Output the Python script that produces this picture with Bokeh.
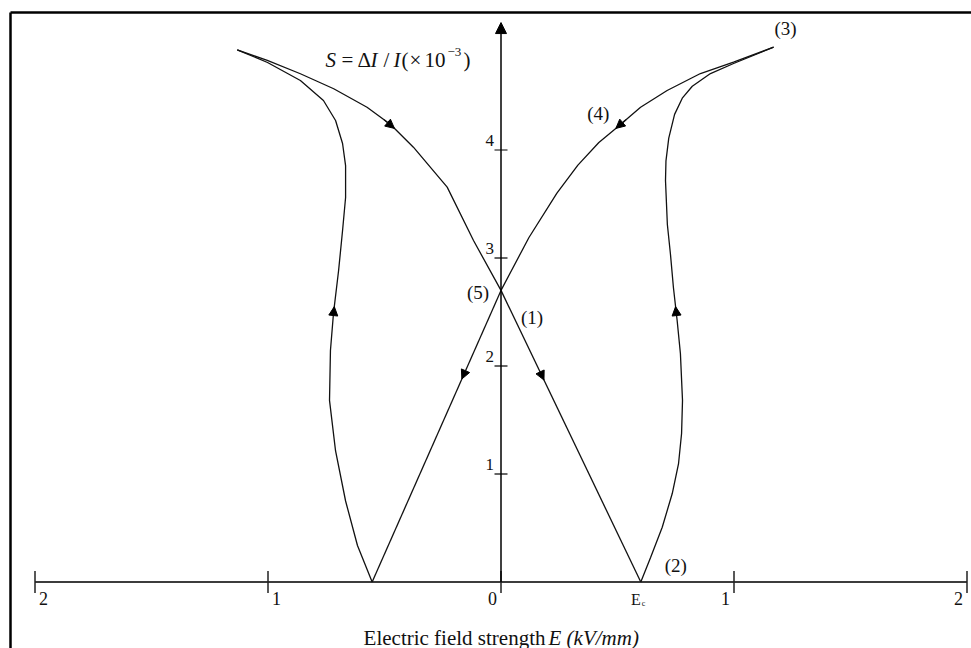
import numpy as np
from bokeh.plotting import figure
from bokeh.models import Range1d, Arrow, NormalHead
from bokeh.core.properties import value
from bokeh.embed import file_html
from bokeh.resources import INLINE

# ---- axis ticks (field axis labelled by magnitude only) ----
x_ticks = [-2, -1, 0, 1, 2]
x_tick_labels = ["2", "1", "0", "1", "2"]
y_ticks = [1, 2, 3, 4]
y_tick_labels = ["1", "2", "3", "4"]
y_axis_top = 5.18

# ---- characteristic points of the butterfly loop ----
e_coercive_pos = 0.60      # (2)
e_coercive_neg = -0.553
s_zero_field = 2.70        # (1) / (5)

# (1) -> (2): linear drop to the coercive field
line_right_E = [0.0, e_coercive_pos]
line_right_S = [s_zero_field, 0.0]

# (2) -> (3): rise to maximum field
loop_right_E = [0.600, 0.642, 0.692, 0.735, 0.762, 0.775, 0.779, 0.770, 0.756, 0.740,
                0.727, 0.714, 0.706, 0.708, 0.720, 0.745, 0.778, 0.821, 0.899, 0.998, 1.170]
loop_right_S = [0.000, 0.227, 0.507, 0.819, 1.097, 1.375, 1.681, 2.116, 2.421, 2.727,
                3.042, 3.310, 3.718, 3.900, 4.110, 4.330, 4.480, 4.590, 4.708, 4.801, 4.952]

# (3) -> (4) -> (5): field decreasing back to zero
outer_right_E = [1.170, 0.998, 0.856, 0.713, 0.599, 0.499, 0.420, 0.330, 0.240, 0.120, 0.0]
outer_right_S = [4.952, 4.813, 4.708, 4.551, 4.396, 4.211, 4.070, 3.860, 3.600, 3.190, s_zero_field]

# (5) -> -Ec: linear drop on the negative side
line_left_E = [0.0, e_coercive_neg]
line_left_S = [s_zero_field, 0.0]

# -Ec -> negative maximum field
loop_left_E = [-0.553, -0.616, -0.667, -0.710, -0.736, -0.732, -0.719, -0.697, -0.680,
               -0.667, -0.667, -0.680, -0.710, -0.762, -0.861, -1.002, -1.132]
loop_left_S = [0.000, 0.338, 0.750, 1.213, 1.681, 2.144, 2.486, 2.884, 3.255,
               3.560, 3.856, 4.060, 4.273, 4.458, 4.644, 4.810, 4.928]

# negative maximum -> back to (1)
outer_left_E = [-1.132, -1.003, -0.861, -0.718, -0.575, -0.474, -0.376, -0.231, -0.118, 0.0]
outer_left_S = [4.928, 4.829, 4.706, 4.567, 4.396, 4.236, 4.026, 3.656, 3.162, s_zero_field]

# direction markers: S level at which each branch carries an arrowhead
branch_arrow_levels = [1.87, 2.55, 4.20, 1.88, 2.55, 4.20]

# ---- canvas geometry ----
W, H = 971, 648
X0_PX, PX_PER_E = 500.5, 233.0             # where E = 0 sits, px per kV/mm
Y0_PX, PX_PER_S = 581.5, 108.0             # where S = 0 sits, px per unit

xmin, xmax = -X0_PX / PX_PER_E, (W - X0_PX) / PX_PER_E
ymin, ymax = (Y0_PX - H) / PX_PER_S, Y0_PX / PX_PER_S


def dx(px):
    return px / PX_PER_E


def dy(px):
    return px / PX_PER_S


def ex(px):
    return (px - X0_PX) / PX_PER_E


def ey(py):
    return (Y0_PX - py) / PX_PER_S


p = figure(width=W, height=H, output_backend="svg", toolbar_location=None,
           x_range=Range1d(xmin, xmax), y_range=Range1d(ymin, ymax),
           x_axis_type=None, y_axis_type=None,
           min_border_left=0, min_border_right=0,
           min_border_top=0, min_border_bottom=0)
p.grid.visible = False
p.background_fill_color = "white"
p.border_fill_color = "white"
p.outline_line_color = None

SERIF = value("Liberation Serif")
INK = "#111111"

# page frame (left and top edges)
p.segment(x0=[ex(10), ex(10)], y0=[ey(12), ey(12)], x1=[xmax, ex(10)], y1=[ey(12), ymin],
          line_color="black", line_width=2.5)

# ---- axes drawn through the origin ----
p.line([x_ticks[0], x_ticks[-1]], [0, 0], line_color="#3c3c3c", line_width=2)
p.segment(x0=x_ticks, y0=[-dy(11)] * len(x_ticks), x1=x_ticks, y1=[dy(11)] * len(x_ticks),
          line_color="#222222", line_width=1.5)
p.segment(x0=[-dx(6.5)] * len(y_ticks), y0=y_ticks, x1=[dx(6.5)] * len(y_ticks), y1=y_ticks,
          line_color="black", line_width=1.2)
p.add_layout(Arrow(x_start=0, y_start=0, x_end=0, y_end=y_axis_top, line_width=1.5,
                   line_color="black",
                   end=NormalHead(size=11, fill_color="black", line_color="black")))

neg = [i for i, v in enumerate(x_ticks) if v < 0]
pos = [i for i, v in enumerate(x_ticks) if v >= 0]
xtick_font = dict(text_font=SERIF, text_font_size="18px", text_color=INK)
p.text(x=[x_ticks[i] for i in neg], y=[0] * len(neg), text=[x_tick_labels[i] for i in neg],
       text_align="left", text_baseline="middle", x_offset=4, y_offset=16, **xtick_font)
p.text(x=[x_ticks[i] for i in pos], y=[0] * len(pos), text=[x_tick_labels[i] for i in pos],
       text_align="right", text_baseline="middle", x_offset=-4, y_offset=16, **xtick_font)
p.text(x=[0] * len(y_ticks), y=y_ticks, text=y_tick_labels, text_font=SERIF,
       text_font_size="17px", text_color=INK,
       text_align="right", text_baseline="middle", x_offset=-7, y_offset=-10)

# ---- the butterfly loop ----
branches = [
    (line_right_E, line_right_S),
    (loop_right_E, loop_right_S),
    (outer_right_E, outer_right_S),
    (line_left_E, line_left_S),
    (loop_left_E, loop_left_S),
    (outer_left_E, outer_left_S),
]
for (be, bs), lvl in zip(branches, branch_arrow_levels):
    p.line(be, bs, line_color=INK, line_width=1.3)
    e_arr, s_arr = np.asarray(be, float), np.asarray(bs, float)
    step = np.sign(s_arr[-1] - s_arr[0])
    order = np.argsort(s_arr)
    tail_s = lvl - step * 0.08
    e_head = float(np.interp(lvl, s_arr[order], e_arr[order]))
    e_tail = float(np.interp(tail_s, s_arr[order], e_arr[order]))
    p.add_layout(Arrow(x_start=e_tail, y_start=tail_s, x_end=e_head, y_end=lvl,
                       line_color=INK, line_width=1.3,
                       end=NormalHead(size=9, fill_color="black", line_color="black")))

# ---- point labels ----
pt_font = dict(text_font=SERIF, text_font_size="19px", text_baseline="middle",
               text_align="center", text_color=INK)
p.text(x=[0], y=[s_zero_field], text=["(1)"], x_offset=31, y_offset=27, **pt_font)
p.text(x=[0], y=[s_zero_field], text=["(5)"], x_offset=-23, y_offset=2, **pt_font)
p.text(x=[e_coercive_pos], y=[0], text=["(2)"], x_offset=35, y_offset=-17, **pt_font)
p.text(x=[loop_right_E[-1]], y=[loop_right_S[-1]], text=["(3)"], x_offset=12, y_offset=-19, **pt_font)
p.text(x=[outer_right_E[5]], y=[outer_right_S[5]], text=["(4)"], x_offset=-19, y_offset=-14, **pt_font)

# coercive field mark
p.text(x=[e_coercive_pos], y=[0], text=["E"], x_offset=0, y_offset=17, text_font=SERIF,
       text_font_size="16px", text_align="right", text_baseline="middle", text_color=INK)
p.text(x=[e_coercive_pos], y=[0], text=["c"], x_offset=1, y_offset=21, text_font=SERIF,
       text_font_size="8px", text_align="left", text_baseline="middle", text_color=INK)

# ---- quantity label S = ΔI / I (×10^-3) ----
f_norm = dict(text_font=SERIF, text_font_size="21px", text_baseline="middle",
              text_align="left", text_color=INK)
f_ital = dict(f_norm, text_font_style="italic")
mid = ey(59)
p.text(x=[ex(325)], y=[mid], text=["S"], **f_ital)
p.text(x=[ex(341)], y=[mid], text=["="], **f_norm)
p.text(x=[ex(357)], y=[mid], text=["Δ"], **f_norm)
p.text(x=[ex(370)], y=[mid], text=["I"], **f_ital)
p.text(x=[ex(383)], y=[mid], text=["/"], **f_norm)
p.text(x=[ex(393)], y=[mid], text=["I"], **f_ital)
p.text(x=[ex(401)], y=[mid], text=["("], **f_norm)
p.text(x=[ex(409)], y=[mid], text=["×"], **f_norm)
p.text(x=[ex(424)], y=[mid], text=["10"], **f_norm)
p.text(x=[ex(447)], y=[ey(51)], text=["−3"], **dict(f_norm, text_font_size="13px"))
p.text(x=[ex(463)], y=[mid], text=[")"], **f_norm)

# ---- axis title ----
p.text(x=[ex(545)], y=[ey(637)], text=["Electric field strength"], text_font=SERIF,
       text_font_size="21px", text_align="right", text_baseline="middle", text_color=INK)
p.text(x=[ex(548)], y=[ey(637)], text=["E (kV/mm)"], text_font=SERIF, text_font_style="italic",
       text_font_size="21px", text_align="left", text_baseline="middle", text_color=INK)

open("out.html", "w").write(file_html(p, INLINE))
